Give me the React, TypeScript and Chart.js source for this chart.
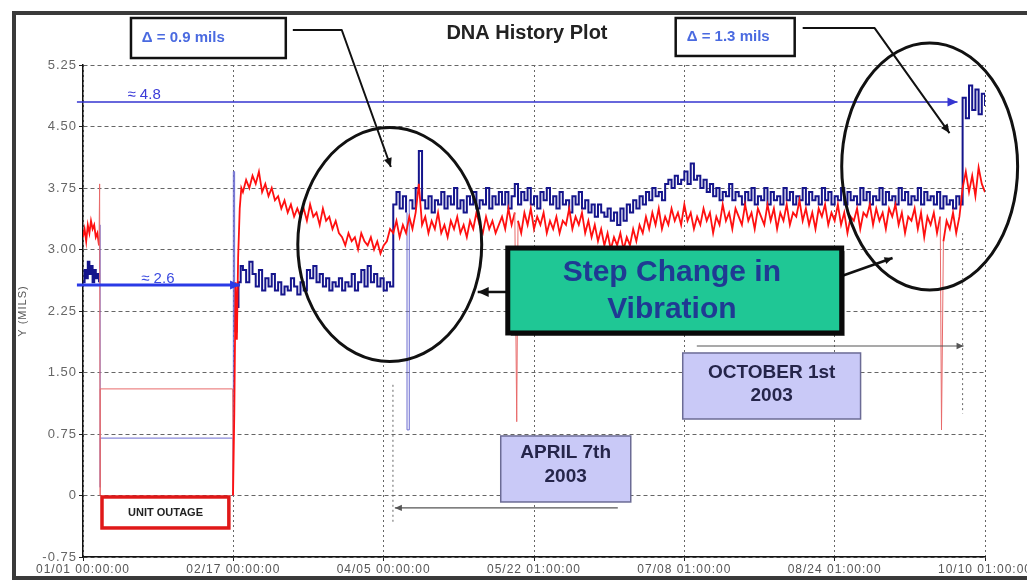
import React, { useEffect, useRef } from 'react';
import { Chart, registerables } from 'chart.js';

Chart.register(...registerables);

// ---------- axis data ----------
const xTickDays = [0, 47, 94, 141, 188, 235, 282];
const xTickLabels = [
  '01/01 00:00:00',
  '02/17 00:00:00',
  '04/05 00:00:00',
  '05/22 01:00:00',
  '07/08 01:00:00',
  '08/24 01:00:00',
  '10/10 01:00:00',
];
const yMin = -0.75;
const yMax = 5.25;
const yStep = 0.75;

// ---------- series data (x = days since 01/01, y = mils) ----------
// before the outage, the outage hold and the restart (irregular samples)
const redLead: [number, number][] = [
  [0, 3.15], [0.5, 3.25], [1, 3.1], [1.5, 3.3], [2, 3.2], [2.5, 3.35], [3, 3.25], [3.5, 3.3],
  [4, 3.15], [4.5, 3.2], [5, 3.05], [5.2, 3.8], [5.35, 0], [5.4, 1.3], [46.8, 1.3], [46.9, 0],
  [47.3, 1.0], [47.7, 2.6], [48.1, 1.9], [48.5, 2.9], [49, 3.5], [49.5, 3.75],
];
const blueLead: [number, number][] = [
  [0, 2.6], [0.5, 2.75], [1, 2.65], [1.5, 2.85], [2, 2.7], [2.5, 2.8], [3, 2.6], [3.5, 2.75],
  [4, 2.65], [4.5, 2.7], [5, 2.6], [5.2, 3.3], [5.35, 0.1], [5.4, 0.7], [46.8, 0.7], [46.9, 0],
  [47.0, 3.95], [47.4, 2.0], [48, 2.3], [48.6, 2.6], [49.3, 2.8],
];

// daily samples starting at day 50
const MAIN_START_DAY = 50;
const redFebApr = [
  3.70, 3.85, 3.75, 3.90, 3.80, 3.95,
  3.70, 3.80, 3.65, 3.75, 3.60,
  3.65, 3.50, 3.60, 3.45, 3.55, 3.40, 3.50,
  3.40, 3.50, 3.35, 3.55, 3.40, 3.45, 3.30, 3.50, 3.35, 3.40, 3.25, 3.35, 3.20,
  3.15, 3.05, 3.20, 3.10, 3.15, 3.00, 3.20, 3.10, 3.05, 3.15, 3.00, 3.10, 2.95, 3.05,
  3.10, 3.25,
];
const redAprMay = [
  3.20, 3.35, 3.15, 3.30, 3.20, 3.40, 3.25, 3.45, 3.80, 3.30, 3.40, 3.20, 3.35, 3.25, 3.45, 3.20, 3.30,
  3.15, 3.35, 3.25, 3.40, 3.20, 3.30, 3.15, 3.35, 3.25, 3.45, 3.30, 3.20, 3.40, 3.25, 3.35, 3.20, 3.30,
];
const redMayJun = [
  3.40, 3.25, 3.50, 3.30, 3.45, 3.35, 3.20, 3.45, 3.30, 3.50, 3.25, 3.40, 3.30, 3.45, 3.20,
  3.35, 3.25, 3.40, 3.20, 3.35, 3.30, 3.50, 3.25, 3.40, 3.30, 3.45, 3.20, 3.35, 3.15, 3.30,
  3.10, 3.25, 3.05, 3.20, 3.00, 3.15, 3.05, 3.20, 3.00, 3.15, 3.05, 3.25, 3.10, 3.30,
];
const redJunOct = [
  3.20, 3.40, 3.25, 3.45, 3.30, 3.50, 3.25, 3.40, 3.30, 3.50,
  3.35, 3.45, 3.30, 3.55, 3.35, 3.45, 3.25, 3.40, 3.30, 3.50,
  3.35, 3.45, 3.20, 3.40, 3.30, 3.55, 3.35, 3.45, 3.25, 3.50,
  3.40, 3.30, 3.55, 3.35, 3.45, 3.25, 3.50, 3.40, 3.30, 3.55,
  3.35, 3.50, 3.25, 3.45, 3.35, 3.55, 3.30, 3.45, 3.40, 3.60,
  3.35, 3.50, 3.30, 3.45, 3.25, 3.50, 3.40, 3.55, 3.30, 3.45,
  3.35, 3.55, 3.30, 3.45, 3.20, 3.40, 3.35, 3.50, 3.25, 3.45,
  3.40, 3.55, 3.30, 3.50, 3.35, 3.45, 3.25, 3.50, 3.40, 3.55,
  3.30, 3.45, 3.20, 3.40, 3.35, 3.50, 3.25, 3.45, 3.15, 3.40,
  3.30, 3.45, 3.20, 3.40, 3.10, 3.35, 3.25, 3.45, 3.20, 3.40,
];
const redOct = [3.75, 3.95, 3.70, 3.90, 3.65, 4.00, 3.80, 3.70];

const blueFebApr = [
  2.75, 2.60, 2.85, 2.70, 2.55, 2.75, 2.50, 2.65, 2.55, 2.70,
  2.50, 2.60, 2.45, 2.55, 2.50, 2.65, 2.55, 2.45, 2.60, 2.50,
  2.75, 2.65, 2.80, 2.60, 2.70, 2.55, 2.65, 2.50, 2.60, 2.55,
  2.65, 2.50, 2.60, 2.55, 2.70, 2.50, 2.60, 2.75, 2.55, 2.80,
  2.60, 2.70, 2.55, 2.65, 2.50, 2.60, 2.55,
];
const blueAprMay = [
  3.55, 3.70, 3.50, 3.65, 3.45, 3.60, 3.50, 3.75, 4.20, 3.60, 3.50, 3.65, 3.45, 3.60, 3.55, 3.70, 3.50,
  3.65, 3.55, 3.75, 3.50, 3.60, 3.45, 3.65, 3.55, 3.70, 3.50, 3.60, 3.55, 3.75, 3.50, 3.65, 3.55, 3.70,
];
const blueMayJun = [
  3.55, 3.70, 3.50, 3.65, 3.80, 3.55, 3.70, 3.60, 3.75, 3.55, 3.65, 3.50, 3.70, 3.60, 3.75,
  3.55, 3.65, 3.50, 3.70, 3.55, 3.60, 3.45, 3.65, 3.55, 3.70, 3.50, 3.60, 3.45, 3.55, 3.40,
  3.55, 3.45, 3.40, 3.50, 3.35, 3.45, 3.30, 3.50, 3.35, 3.55, 3.45, 3.60, 3.50, 3.65,
];
const blueJunOct = [
  3.55, 3.70, 3.60, 3.75, 3.65, 3.70, 3.60, 3.80, 3.85, 3.75,
  3.90, 3.80, 3.85, 3.95, 3.80, 4.05, 3.85, 3.90, 3.75, 3.85,
  3.70, 3.80, 3.65, 3.75, 3.60, 3.70, 3.65, 3.80, 3.60, 3.70,
  3.65, 3.55, 3.70, 3.60, 3.75, 3.55, 3.65, 3.60, 3.75, 3.55,
  3.70, 3.60, 3.65, 3.55, 3.75, 3.60, 3.70, 3.55, 3.65, 3.60,
  3.75, 3.55, 3.70, 3.60, 3.65, 3.55, 3.75, 3.60, 3.70, 3.55,
  3.65, 3.60, 3.75, 3.55, 3.70, 3.60, 3.65, 3.55, 3.75, 3.60,
  3.70, 3.55, 3.65, 3.60, 3.75, 3.55, 3.70, 3.60, 3.65, 3.55,
  3.75, 3.60, 3.70, 3.55, 3.65, 3.60, 3.75, 3.55, 3.70, 3.60,
  3.65, 3.55, 3.70, 3.50, 3.65, 3.55, 3.60, 3.50, 3.65, 3.55,
];
const blueOct = [4.85, 4.60, 5.00, 4.70, 4.95, 4.65, 4.90, 4.75];

// isolated drop-outs
const redSpikes: [number, number][] = [[135.6, 0.9], [268.4, 0.8]];
const blueSpikes: [number, number][] = [[101.3, 0.8]];

const redMain = [...redFebApr, ...redAprMay, ...redMayJun, ...redJunOct, ...redOct];
const blueMain = [...blueFebApr, ...blueAprMay, ...blueMayJun, ...blueJunOct, ...blueOct];

function buildSeries(lead: [number, number][], main: number[], spikes: [number, number][]) {
  const pts = lead.map(([x, y]) => ({ x, y }));
  main.forEach((y, i) => pts.push({ x: MAIN_START_DAY + i, y }));
  spikes.forEach(([x, y]) => pts.push({ x, y }));
  pts.sort((a, b) => a.x - b.x);
  return pts;
}

// ---------- annotations (in data units: day, mils) ----------
const FONT = '"Liberation Sans", Arial, Helvetica, sans-serif';

type Ctx = CanvasRenderingContext2D;

function drawArrow(ctx: Ctx, pts: [number, number][], color: string, width: number, head: number) {
  ctx.save();
  ctx.strokeStyle = color;
  ctx.fillStyle = color;
  ctx.lineWidth = width;
  ctx.lineJoin = 'round';
  ctx.beginPath();
  pts.forEach(([x, y], i) => (i === 0 ? ctx.moveTo(x, y) : ctx.lineTo(x, y)));
  ctx.stroke();
  if (head > 0) {
    const n = pts.length;
    const [tx, ty] = pts[n - 1];
    const [fx, fy] = pts[n - 2];
    const a = Math.atan2(ty - fy, tx - fx);
    const w = head * 0.45;
    ctx.beginPath();
    ctx.moveTo(tx, ty);
    ctx.lineTo(tx - head * Math.cos(a) + w * Math.sin(a), ty - head * Math.sin(a) - w * Math.cos(a));
    ctx.lineTo(tx - head * Math.cos(a) - w * Math.sin(a), ty - head * Math.sin(a) + w * Math.cos(a));
    ctx.closePath();
    ctx.fill();
  }
  ctx.restore();
}

function drawText(ctx: Ctx, str: string, x: number, y: number, font: string, color: string, align: CanvasTextAlign = 'center') {
  ctx.save();
  ctx.font = font;
  ctx.fillStyle = color;
  ctx.textAlign = align;
  ctx.textBaseline = 'middle';
  ctx.fillText(str, x, y);
  ctx.restore();
}

function drawBox(ctx: Ctx, x1: number, y1: number, x2: number, y2: number, fill: string, stroke: string, lw: number) {
  ctx.save();
  ctx.fillStyle = fill;
  ctx.fillRect(x1, y1, x2 - x1, y2 - y1);
  ctx.strokeStyle = stroke;
  ctx.lineWidth = lw;
  ctx.strokeRect(x1, y1, x2 - x1, y2 - y1);
  ctx.restore();
}

const notesPlugin = {
  id: 'notes',
  afterDraw(chart: any) {
    const ctx: Ctx = chart.ctx;
    (ctx as any).letterSpacing = '0px';
    const xs = chart.scales.x;
    const ys = chart.scales.y;
    const X = (d: number) => xs.getPixelForValue(d);
    const Y = (v: number) => ys.getPixelForValue(v);

    // title
    drawText(ctx, 'DNA History Plot', X(138.8), Y(5.64), `bold 20px ${FONT}`, '#222', 'center');

    // reference levels
    drawArrow(ctx, [[X(-1.9), Y(4.8)], [X(273.4), Y(4.8)]], '#3535d0', 1.5, 10);
    drawText(ctx, '≈ 4.8', X(19.1), Y(4.88), `15px ${FONT}`, '#3b3bd8', 'center');
    drawArrow(ctx, [[X(-1.9), Y(2.567)], [X(49.1), Y(2.567)]], '#2a3ae6', 3, 10);
    drawText(ctx, '≈ 2.6', X(23.4), Y(2.64), `15px ${FONT}`, '#3b4be0', 'center');

    // delta boxes and connectors
    drawBox(ctx, X(15.0), Y(5.823), X(63.4), Y(5.335), '#fff', '#111', 2.5);
    drawText(ctx, 'Δ = 0.9 mils', X(18.4), Y(5.58), `bold 15px ${FONT}`, '#4a6ae0', 'left');
    drawArrow(ctx, [[X(65.6), Y(5.677)], [X(80.9), Y(5.677)], [X(96.25), Y(4.006)]], '#111', 2, 9);

    drawBox(ctx, X(185.3), Y(5.823), X(222.5), Y(5.36), '#fff', '#111', 2.5);
    drawText(ctx, 'Δ = 1.3 mils', X(188.75), Y(5.59), `bold 15px ${FONT}`, '#4a6ae0', 'left');
    drawArrow(ctx, [[X(225), Y(5.70)], [X(247.5), Y(5.70)], [X(270.9), Y(4.42)]], '#111', 2, 9);

    // ellipses
    ctx.save();
    ctx.strokeStyle = '#111';
    ctx.lineWidth = 3;
    ctx.beginPath();
    ctx.ellipse(X(95.9), Y(3.06), X(95.9 + 28.75) - X(95.9), Y(3.06) - Y(3.06 + 1.427), 0, 0, Math.PI * 2);
    ctx.stroke();
    ctx.beginPath();
    ctx.ellipse(X(264.7), Y(4.012), X(264.7 + 27.5) - X(264.7), Y(4.012) - Y(4.012 + 1.506), 0, 0, Math.PI * 2);
    ctx.stroke();
    ctx.restore();

    // step change box
    drawArrow(ctx, [[X(132.8), Y(2.482)], [X(123.4), Y(2.482)]], '#111', 2.5, 11);
    drawArrow(ctx, [[X(237.2), Y(2.677)], [X(253.1), Y(2.896)]], '#111', 2.5, 8);
    ctx.save();
    ctx.fillStyle = 'rgba(0,0,0,0.55)';
    ctx.fillRect(X(132.8) + 3, Y(3.018) + 3, X(237.2) - X(132.8), Y(1.982) - Y(3.018));
    ctx.restore();
    drawBox(ctx, X(132.8), Y(3.018), X(237.2), Y(1.982), '#1fc795', '#0a0a0a', 5);
    drawText(ctx, 'Step Change in', X(184.1), Y(2.713), `bold 30px ${FONT}`, '#1f3a93', 'center');
    drawText(ctx, 'Vibration', X(184.1), Y(2.262), `bold 30px ${FONT}`, '#1f3a93', 'center');

    // unit outage
    drawBox(ctx, X(5.94), Y(-0.018), X(45.6), Y(-0.396), '#fff', '#e01818', 3.5);
    drawText(ctx, 'UNIT OUTAGE', X(25.8), Y(-0.207), `bold 11px ${FONT}`, '#222', 'center');

    // April / October date markers
    ctx.save();
    ctx.strokeStyle = '#666';
    ctx.lineWidth = 1;
    ctx.setLineDash([2, 3]);
    ctx.beginPath();
    ctx.moveTo(X(96.9), Y(1.35));
    ctx.lineTo(X(96.9), Y(-0.32));
    ctx.moveTo(X(275.0), Y(3.2));
    ctx.lineTo(X(275.0), Y(1.0));
    ctx.stroke();
    ctx.restore();
    drawArrow(ctx, [[X(167.2), Y(-0.152)], [X(97.5), Y(-0.152)]], '#555', 1.2, 7);
    drawBox(ctx, X(130.6), Y(0.726), X(171.25), Y(-0.079), '#c9c9f7', '#6b6b95', 1.5);
    drawText(ctx, 'APRIL 7th', X(150.9), Y(0.518), `bold 19px ${FONT}`, '#25254a', 'center');
    drawText(ctx, '2003', X(150.9), Y(0.226), `bold 19px ${FONT}`, '#25254a', 'center');

    drawArrow(ctx, [[X(191.9), Y(1.823)], [X(275.3), Y(1.823)]], '#555', 1.2, 7);
    drawBox(ctx, X(187.5), Y(1.738), X(243.1), Y(0.933), '#c9c9f7', '#6b6b95', 1.5);
    drawText(ctx, 'OCTOBER 1st', X(215.3), Y(1.494), `bold 19px ${FONT}`, '#25254a', 'center');
    drawText(ctx, '2003', X(215.3), Y(1.213), `bold 19px ${FONT}`, '#25254a', 'center');
  },
};

// wider spacing for the axis tick labels, reset before the traces
const spacingPlugin = {
  id: 'tickSpacing',
  beforeDraw(chart: any) {
    (chart.ctx as any).letterSpacing = '1px';
  },
  beforeDatasetsDraw(chart: any) {
    (chart.ctx as any).letterSpacing = '0px';
  },
};

// ---------- component ----------
export default function App() {
  const canvasRef = useRef<HTMLCanvasElement | null>(null);

  useEffect(() => {
    if (!canvasRef.current) return;
    const redPts = buildSeries(redLead, redMain, redSpikes);
    const bluePts = buildSeries(blueLead, blueMain, blueSpikes);

    const isThin = (c: any, holdEnd: number) => {
      const a = c.p0.parsed, b = c.p1.parsed;
      if (a.x >= 5.0 && b.x <= holdEnd) return true;
      if (a.x > 50 && (a.y < 2 || b.y < 2)) return true;
      return false;
    };

    const chart = new Chart(canvasRef.current, {
      type: 'line',
      data: {
        datasets: [
          {
            label: 'Red',
            data: redPts,
            borderColor: '#ff1010',
            borderWidth: 1.8,
            pointRadius: 0,
            tension: 0,
            segment: {
              borderColor: (c: any) => (isThin(c, 47.0) ? '#e86a6a' : undefined),
              borderWidth: (c: any) => (isThin(c, 47.0) ? 1 : undefined),
            },
          },
          {
            label: 'Blue',
            data: bluePts,
            borderColor: '#15158c',
            borderWidth: 2,
            pointRadius: 0,
            tension: 0,
            stepped: true,
            segment: {
              borderColor: (c: any) => (isThin(c, 47.4) ? '#6a6ad0' : undefined),
              borderWidth: (c: any) => (isThin(c, 47.4) ? 1 : undefined),
            },
          },
        ],
      },
      options: {
        animation: false,
        responsive: false,
        devicePixelRatio: 1,
        layout: { padding: { top: 65, right: 75, bottom: 0, left: 0 } },
        plugins: {
          legend: { display: false },
          tooltip: { enabled: false },
          title: { display: false },
        },
        scales: {
          x: {
            type: 'linear',
            min: xTickDays[0],
            max: xTickDays[xTickDays.length - 1],
            afterBuildTicks: (s: any) => {
              s.ticks = xTickDays.map((v) => ({ value: v }));
            },
            afterFit: (s: any) => {
              s.height = 24;
            },
            ticks: {
              autoSkip: false,
              maxRotation: 0,
              padding: 1,
              color: '#555',
              font: { family: FONT, size: 12 },
              callback: (_v: any, i: number) => xTickLabels[i],
            },
            grid: { color: '#666', lineWidth: 1, tickLength: 4, tickColor: '#222' },
            border: { color: '#111', width: 1.5, dash: [2, 3] },
          },
          y: {
            type: 'linear',
            min: yMin,
            max: yMax,
            afterFit: (s: any) => {
              s.width = 83;
            },
            ticks: {
              stepSize: yStep,
              padding: 2,
              color: '#666',
              font: { family: FONT, size: 13 },
              callback: (v: any) => (Math.abs(Number(v)) < 1e-9 ? '0' : Number(v).toFixed(2)),
            },
            title: {
              display: true,
              text: 'Y (MILS)',
              color: '#555',
              font: { family: FONT, size: 11 },
              padding: { top: 16, bottom: 0 },
            },
            grid: { color: '#666', lineWidth: 1, tickLength: 4, tickColor: '#222' },
            border: { color: '#111', width: 1.5, dash: [4, 3] },
          },
        },
      },
      plugins: [spacingPlugin, notesPlugin],
    } as any);
    return () => chart.destroy();
  }, []);

  return (
    <div style={{ position: 'absolute', left: 0, top: 0, width: 1027, height: 581, overflow: 'hidden', background: '#fff' }}>
      <div
        style={{
          position: 'absolute',
          left: 12,
          top: 11,
          width: 1060,
          height: 569,
          border: '4px solid #3a3a3a',
          boxSizing: 'border-box',
        }}
      />
      <canvas
        ref={canvasRef}
        width={1060}
        height={581}
        style={{ position: 'absolute', left: 0, top: 0, width: 1060, height: 581 }}
      />
    </div>
  );
}
